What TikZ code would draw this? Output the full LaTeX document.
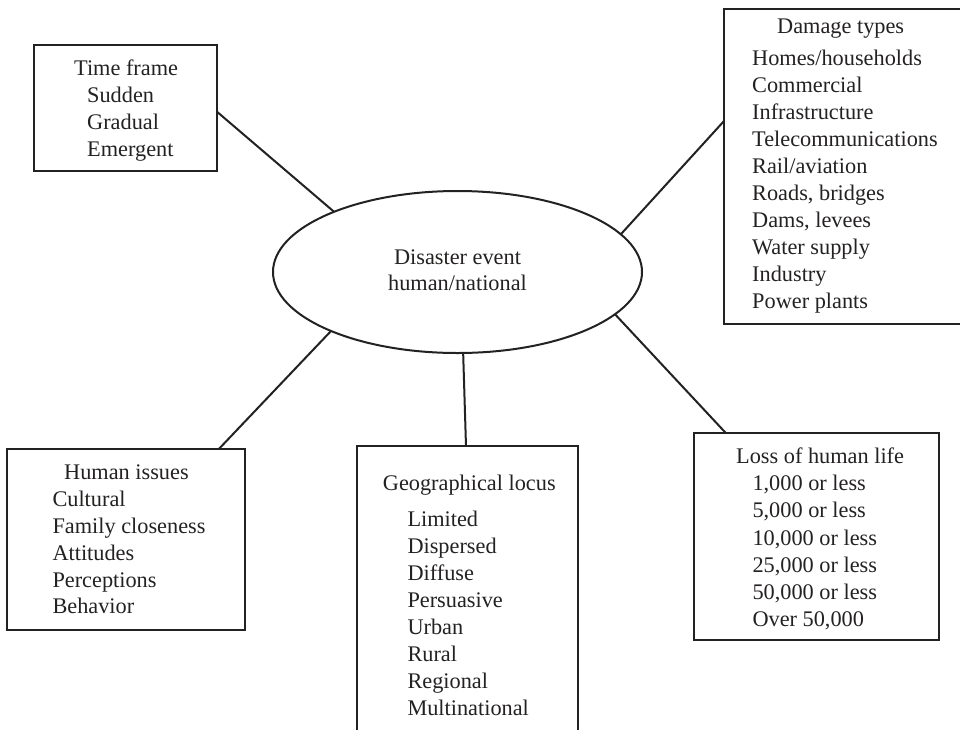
\documentclass[tikz,border=0pt]{standalone}
\usepackage{fontspec}
\setmainfont{Liberation Serif}
\usetikzlibrary{shapes.geometric}
\definecolor{ink}{rgb}{0.14,0.13,0.13}
\begin{document}
\begin{tikzpicture}[x=1pt,y=-1pt,
  every node/.style={text=ink},
  frame/.style={draw=ink,line width=2pt,rectangle,inner sep=0pt,outer sep=0pt},
  hub/.style={draw=ink,line width=2pt,ellipse,inner sep=0pt,outer sep=0pt,
    minimum width=369pt,minimum height=162pt},
  label/.style={anchor=base west,inner sep=0pt,font=\fontsize{22.3}{27}\selectfont},
  link/.style={draw=ink,line width=2pt}]
\clip (0,0) rectangle (960,729);
\fill[white] (0,0) rectangle (960,729);

% central event
\node[hub] (ev) at (457.5,272) {};
\node[label,anchor=base,align=center] (ev1) at (457.5,264) {Disaster event};
\node[label,anchor=base,align=center] (ev2) at (457.5,290) {human/national};

% surrounding category boxes
\node[frame,minimum width=183.5pt,minimum height=126.5pt] (tf) at (125.25,107.75) {};
\node[frame,minimum width=266.3pt,minimum height=315.3pt] (dmg) at (856.85,166.35) {};
\node[frame,minimum width=238.3pt,minimum height=180.7pt] (hum) at (125.85,539.35) {};
\node[frame,minimum width=220.4pt,minimum height=313.7pt] (geo) at (467.5,603.15) {};
\node[frame,minimum width=245pt,minimum height=207pt] (loss) at (816.8,536.5) {};

% time frame
\node[label] (tft) at (74,75) {Time frame};
\foreach \t [count=\i] in {Sudden,Gradual,Emergent}
  \node[label] (tf\i) at (87,75+27*\i) {\t};

% damage types
\node[label] (dmgt) at (777,33) {Damage types};
\foreach \t [count=\i] in {Homes/households,Commercial,Infrastructure,Telecommunications,
    Rail/aviation,{Roads, bridges},{Dams, levees},Water supply,Industry,Power plants}
  \node[label] (dmg\i) at (752,37.9+27.1*\i) {\t};

% human issues
\node[label] (humt) at (64,479) {Human issues};
\foreach \t [count=\i] in {Cultural,Family closeness,Attitudes,Perceptions,Behavior}
  \node[label] (hum\i) at (52.3,479.4+26.9*\i) {\t};

% geographical locus
\node[label] (geot) at (382.7,490.7) {Geographical locus};
\foreach \t [count=\i] in {Limited,Dispersed,Diffuse,Persuasive,Urban,Rural,Regional,Multinational}
  \node[label] (geo\i) at (407.3,499.7+27*\i) {\t};

% loss of human life
\node[label] (losst) at (736,463.3) {Loss of human life};
\foreach \t [count=\i] in {{1,000 or less},{5,000 or less},{10,000 or less},{25,000 or less},
    {50,000 or less},{Over 50,000}}
  \node[label] (loss\i) at (752.3,463.5+27.2*\i) {\t};

% connectors
\draw[link] ([yshift=-4pt]tf.east) -- (ev.154.4);
\draw[link] ([yshift=45pt]dmg.west) -- (ev.13);
\draw[link] (ev.345.6) -- ([xshift=-91pt]loss.north);
\draw[link] (ev.205.6) -- ([xshift=93pt]hum.north);
\draw[link] (ev.274) -- ([xshift=-1.5pt]geo.north);
\end{tikzpicture}
\end{document}
